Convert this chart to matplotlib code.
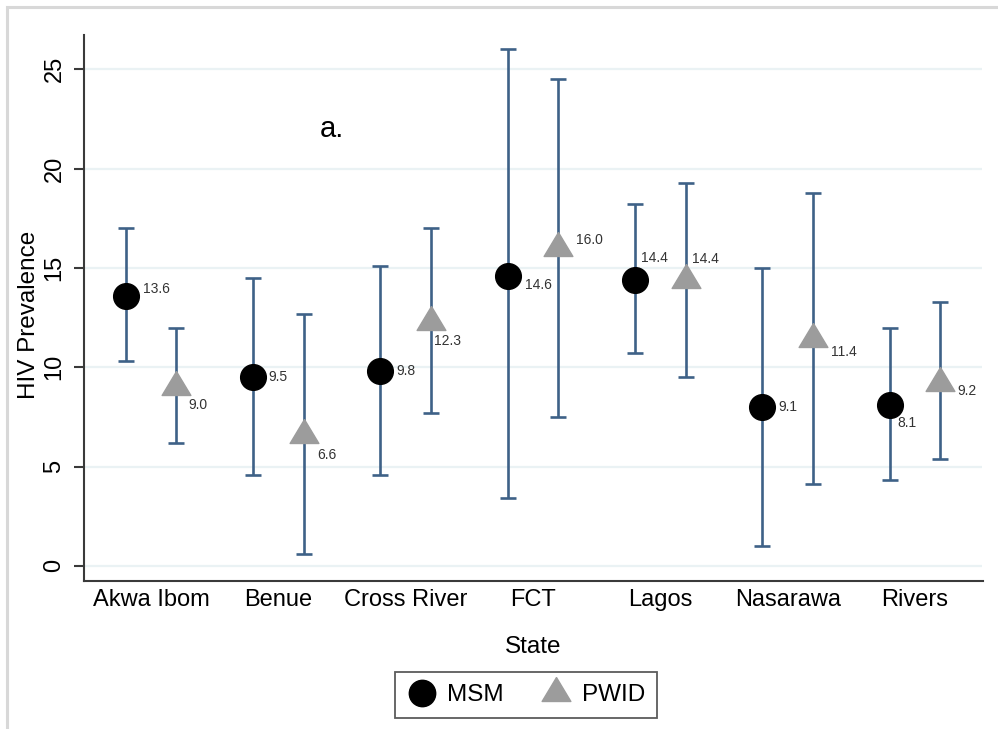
import matplotlib
matplotlib.use("Agg")
import matplotlib.pyplot as plt
from matplotlib.patches import Rectangle
from matplotlib.lines import Line2D
import numpy as np

plt.rcParams['font.family'] = ['Liberation Sans', 'DejaVu Sans']

states = ["Akwa Ibom", "Benue", "Cross River", "FCT", "Lagos", "Nasarawa", "Rivers"]

msm_value = [13.6, 9.5, 9.8, 14.6, 14.4, 8.0, 8.1]
msm_lower = [10.3, 4.6, 4.6, 3.4, 10.7, 1.0, 4.3]
msm_upper = [17.0, 14.5, 15.1, 26.0, 18.2, 15.0, 12.0]
msm_labels = ["13.6", "9.5", "9.8", "14.6", "14.4", "9.1", "8.1"]

pwid_value = [9.0, 6.6, 12.3, 16.0, 14.4, 11.4, 9.2]
pwid_lower = [6.2, 0.6, 7.7, 7.5, 9.5, 4.1, 5.4]
pwid_upper = [12.0, 12.7, 17.0, 24.5, 19.3, 18.8, 13.3]
pwid_labels = ["9.0", "6.6", "12.3", "16.0", "14.4", "11.4", "9.2"]

yticks = [0, 5, 10, 15, 20, 25]

# label offsets in pixels (dx, dy), layout only
msm_off = [(17, 7), (16, 0), (16, 0), (17, -9), (6, 22), (16, 0), (8, -18)]
pwid_off = [(12, -18), (13, -20), (3, -19), (18, 8), (6, 21), (18, -13), (17, -8)]

W, H = 998, 729
fig = plt.figure(figsize=(W / 100, H / 100), dpi=100)
fig.patch.set_facecolor('white')

# light frame (top & left visible)
fig.patches.append(Rectangle((7 / W, -0.05), 1.2, 1 - 7 / H + 0.05, transform=fig.transFigure,
                             fill=False, edgecolor='#d8d8d8', linewidth=2.2, zorder=0))

ax = fig.add_axes([83.5 / W, 1 - 581 / H, (982.5 - 83.5) / W, (581 - 35) / H])
ax.set_xlim(0.47, 7.53)
ax.set_ylim(-0.76, 26.73)

x = np.arange(1, len(states) + 1)
xm = x - 0.2
xp = x + 0.2

for yv in yticks:
    ax.axhline(yv, color='#eaf2f4', linewidth=1.6, zorder=0)

ecol = '#3e6187'
ms = np.array(msm_value)
ps = np.array(pwid_value)
ax.errorbar(xm, ms, yerr=[ms - np.array(msm_lower), np.array(msm_upper) - ms], fmt='none',
            ecolor=ecol, elinewidth=1.9, capsize=5.5, capthick=1.9, zorder=2)
ax.errorbar(xp, ps, yerr=[ps - np.array(pwid_lower), np.array(pwid_upper) - ps], fmt='none',
            ecolor=ecol, elinewidth=1.9, capsize=5.5, capthick=1.9, zorder=2)

tri = [(0, 2), (-1.8, -1), (1.8, -1), (0, 2)]
ax.plot(xm, ms, 'o', color='black', markersize=18.5, linestyle='none', zorder=3)
ax.plot(xp, ps, marker=tri, color='#9c9c9c', markersize=23, linestyle='none', zorder=3)

for i in range(len(states)):
    ax.annotate(msm_labels[i], (xm[i], ms[i]), xytext=msm_off[i], textcoords='offset pixels',
                ha='left', va='center', fontsize=10, color='#333333', zorder=4)
    ax.annotate(pwid_labels[i], (xp[i], ps[i]), xytext=pwid_off[i], textcoords='offset pixels',
                ha='left', va='center', fontsize=10, color='#333333', zorder=4)

ax.text(2.42, 22.0, "a.", fontsize=21, ha='center', va='center', color='black')

for s in ['top', 'right']:
    ax.spines[s].set_visible(False)
for s in ['left', 'bottom']:
    ax.spines[s].set_color('#3a3a3a')
    ax.spines[s].set_linewidth(1.5)

ax.set_xticks(x)
ax.set_xticklabels(states, fontsize=17)
ax.tick_params(axis='x', length=0, pad=6)
ax.set_yticks(yticks)
ax.set_yticklabels([str(t) for t in yticks], fontsize=17, rotation=90, va='center')
ax.tick_params(axis='y', length=7, width=1.5, color='#3a3a3a', pad=6)

axw = 982.5 - 83.5
axh = 581 - 35
ax.set_ylabel("HIV Prevalence", fontsize=17.5)
ax.yaxis.set_label_coords((40 - 83.5) / axw, (581 - 315) / axh)
ax.set_xlabel("State", fontsize=17.5)
ax.xaxis.set_label_coords(0.5, (581 - 636) / axh)

handles = [Line2D([], [], marker='o', color='black', markersize=19, linestyle='none'),
           Line2D([], [], marker=tri, color='#9c9c9c', markersize=23, linestyle='none')]
leg = fig.legend(handles, ["MSM", "PWID"], loc='center', bbox_to_anchor=(526 / W, 1 - 695 / H),
                 ncol=2, fontsize=17.5, frameon=True, fancybox=False, handletextpad=0.45,
                 columnspacing=1.55, borderpad=0.5, handlelength=1.2)
leg.get_frame().set_edgecolor('#333333')
leg.get_frame().set_linewidth(1.3)

fig.savefig("out.png", dpi=100)
